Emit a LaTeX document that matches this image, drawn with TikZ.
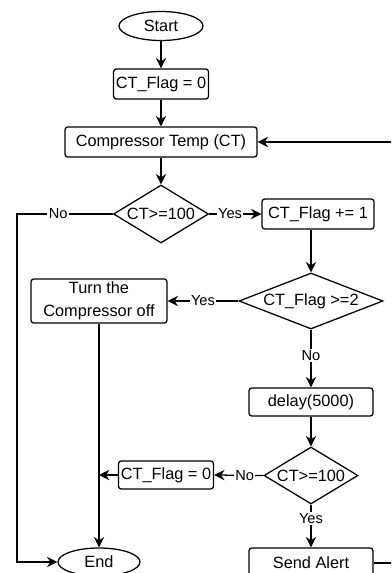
\documentclass[tikz,border=0pt]{standalone}
\usepackage{fontspec}
\setmainfont{Liberation Sans}
\usetikzlibrary{shapes.geometric,arrows.meta}

\begin{document}
\begin{tikzpicture}[
    x=0.025cm, y=-0.025cm,
    every node/.style={draw, inner sep=0pt, font=\fontsize{11.6}{16}\selectfont},
    box/.style={rectangle, rounded corners=2pt, align=center},
    term/.style={ellipse},
    cond/.style={diamond},
    lbl/.style={draw=none, fill=white, inner sep=1pt, font=\fontsize{10.4}{12}\selectfont},
    >={Stealth[length=2.6mm,width=2.6mm]}, line width=0.9pt
  ]
    \clip (0,0) rectangle (391,573);
    \node[term, minimum width=21mm, minimum height=7.25mm] (start) at (161,26) {Start};
    \node[box, minimum width=23.75mm, minimum height=7.5mm] (init) at (161,84) {CT\_Flag = 0};
    \node[box, minimum width=48mm, minimum height=7.5mm] (temp) at (161,142) {Compressor Temp (CT)};
    \node[cond, aspect=1.64, minimum width=23.75mm, minimum height=14.5mm] (chk1) at (161,214) {CT>=100};
    \node[box, minimum width=28mm, minimum height=7.5mm] (inc) at (318,214) {CT\_Flag += 1};
    \node[cond, aspect=2.57, minimum width=36mm, minimum height=14mm] (chk2) at (311,301) {CT\_Flag >=2};
    \node[box, minimum width=34mm, minimum height=11mm] (off) at (99,301) {Turn the\\Compressor off};
    \node[box, minimum width=31mm, minimum height=7mm] (delay) at (311,402) {delay(5000)};
    \node[cond, aspect=1.65, minimum width=23.5mm, minimum height=14.25mm] (chk3) at (311,475.5) {CT>=100};
    \node[box, minimum width=23.75mm, minimum height=7mm] (reset) at (166,475) {CT\_Flag = 0};
    \node[box, minimum width=31mm, minimum height=7.5mm] (alert) at (311,563) {Send Alert};
    \node[term, minimum width=20.5mm, minimum height=7mm] (end) at (99,562) {End};
    \coordinate (noturn) at (17,214);
    \coordinate (loop) at (405,563);

    \draw[->] (start) -- (init);
    \draw[->] (init) -- (temp);
    \draw[->] (temp) -- (chk1);
    \draw[->] (chk1) -- node[lbl, pos=0.4] {Yes} (inc);
    \draw[->] (chk1.west) -- node[lbl, pos=0.57] {No} (noturn) |- (end.west);
    \draw[->] (inc.south -| chk2.north) -- (chk2.north);
    \draw[->] (chk2.west) -- node[lbl] {Yes} (off.east);
    \draw[->] (chk2.south) -- node[lbl, pos=0.45] {No} (delay.north);
    \draw[->] (off.south) -- (end.north);
    \draw[->] (delay) -- (chk3);
    \draw[->] (chk3.west) -- node[lbl, pos=0.38] {No} (reset.east);
    \draw[->] (reset.west) -- (reset.west -| off.south);
    \draw[->] (chk3.south) -- node[lbl, pos=0.32] {Yes} (alert.north);
    \draw[->] (alert.east) -- (loop) |- (temp.east);
  \end{tikzpicture}
\end{document}
